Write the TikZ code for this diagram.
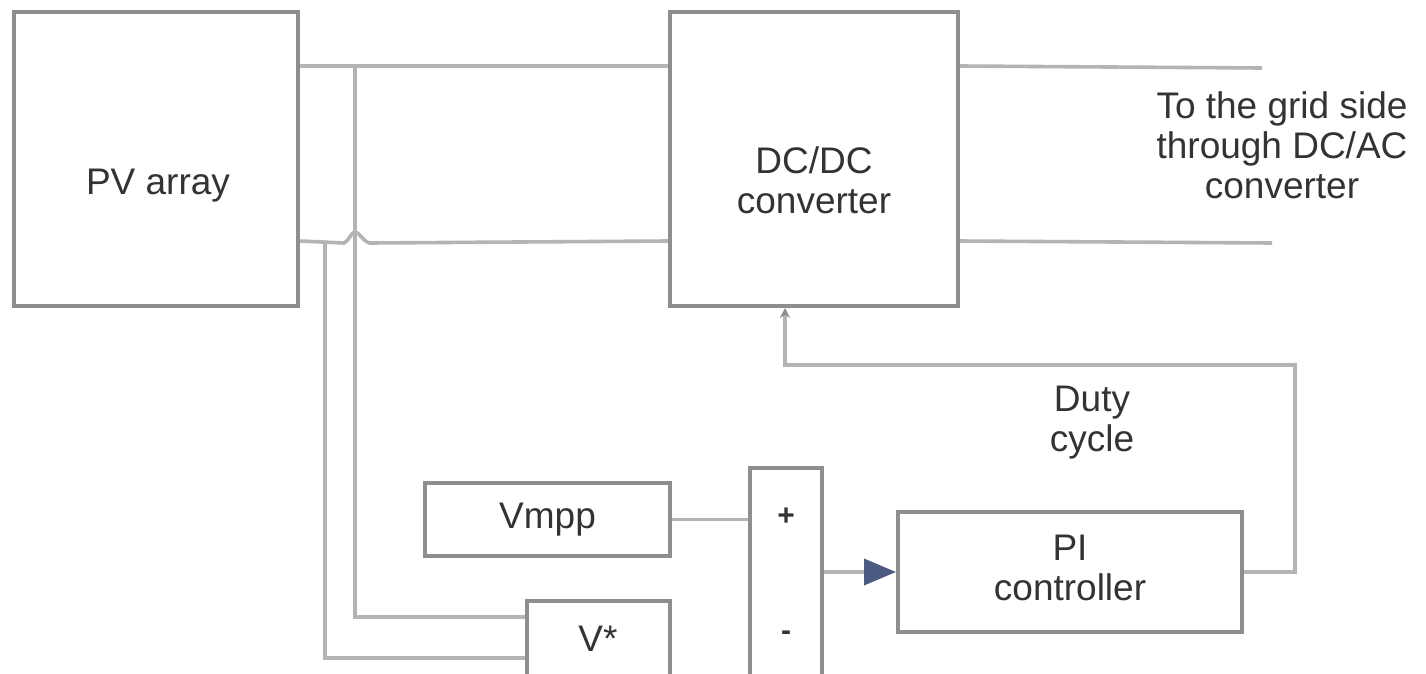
\documentclass[tikz,border=0pt]{standalone}
\usepackage{fontspec}
\setmainfont{Liberation Sans}
\usetikzlibrary{arrows.meta,calc}
\definecolor{boxc}{HTML}{8E8E8E}
\definecolor{wirec}{HTML}{B4B4B4}
\definecolor{txtc}{HTML}{333333}
\definecolor{arrc}{HTML}{4A5A82}
\tikzset{
  blk/.style={draw=boxc, line width=4pt, inner sep=0pt},
  wire/.style={draw=wirec, line width=3.6pt},
  lbl/.style={text=txtc, font=\fontsize{37}{40}\selectfont, inner sep=0pt, align=center},
  sgn/.style={text=txtc, font=\bfseries\fontsize{30}{30}\selectfont, inner sep=0pt},
}
\begin{document}
\begin{tikzpicture}[x=1pt,y=-1pt]
\useasboundingbox (0,0) rectangle (1426,673);
\fill[white] (0,0) rectangle (1426,673);

% blocks
\node[blk, minimum width=284pt, minimum height=294pt] (pv) at (156,159) {};
\node[blk, minimum width=288pt, minimum height=294pt] (dc) at (814,159) {};
\node[blk, minimum width=245pt, minimum height=73pt] (vmpp) at (547.5,519.5) {};
\node[blk, minimum width=143pt, minimum height=79pt] (vs) at (598.5,640.5) {};
\node[blk, minimum width=72pt, minimum height=212pt] (sum) at (786,574) {};
\node[blk, minimum width=344pt, minimum height=120pt] (pi) at (1070,572) {};

% texts
\node[lbl] (pvt) at (158,186) {PV array};
\node[lbl] (dct) at (814,180) {DC/DC\\converter};
\node[lbl] (gridt) at (1282,145) {To the grid side\\through DC/AC\\converter};
\node[lbl] (duty) at (1092,423) {Duty\\cycle};
\node[lbl] (vmppt) at (vmpp.center) {Vmpp};
\node[lbl] (vst) at (598,639) {V*};
\node[lbl] (pit) at (1070,568) {PI\\controller};
\node[sgn] (plus) at (786,517) {+};
\node[sgn] (minus) at (786,636) {-};

% coordinates
\coordinate (pvT) at ($(pv.north east)+(0,56)$);
\coordinate (pvB) at ($(pv.north east)+(0,231)$);
\coordinate (outT) at (1262,68);
\coordinate (outB) at (1272,243);
\coordinate (tapA) at (355,68);
\coordinate (tapB) at (325,243);
\coordinate (fbR) at (1295,365);
\coordinate (fbL) at (785,365);

% power lines
\draw[wire] (pvT) -- (pvT -| dc.west);
\draw[wire] (pvB) -- (344,243) .. controls (349,241) and (351,232) .. (355,232)
  .. controls (359,232) and (363,241) .. (369,243) -- (pvB -| dc.west);
\draw[wire] (pvT -| dc.east) -- (outT);
\draw[wire] (pvB -| dc.east) -- (outB);

% measurement lines
\draw[wire] (tapA) |- ($(vs.west)+(0,-23.5)$);
\draw[wire] (tapB) |- ($(vs.west)+(0,17.5)$);

% control
\draw[wire] (vmpp.east) -- (vmpp.east -| sum.west);
\draw[wire] ($(vs.east)+(0,-3.5)$) -- ($(vs.east)+(0,-3.5)$ -| sum.west);
\draw[wire, -{Triangle[length=32pt,width=26pt,color=arrc]}] (pi.west -| sum.east) -- (pi.west);
\draw[wire, -{Stealth[length=10pt,width=10pt,color=boxc]}] (pi.east) -| (fbR) -- (fbL) -- (fbL |- dc.south);
\end{tikzpicture}
\end{document}
